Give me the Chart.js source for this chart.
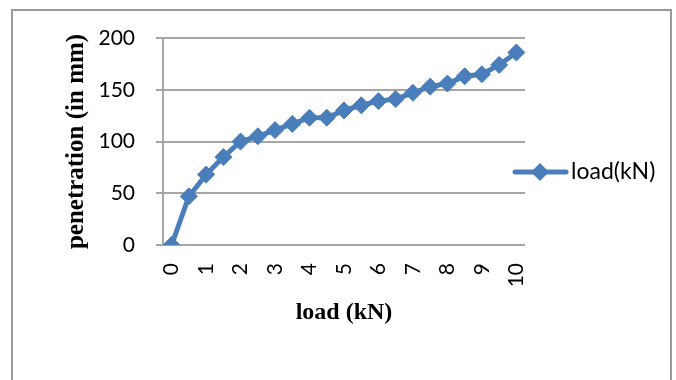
<!DOCTYPE html>
<html>
<head>
<meta charset="utf-8">
<script src="https://cdn.jsdelivr.net/npm/chart.js@4/dist/chart.umd.min.js"></script>
<style>
  html, body { margin: 0; padding: 0; background: #ffffff; }
  #wrap { position: relative; width: 676px; height: 380px; }
  canvas { display: block; }
</style>
</head>
<body>
<div id="wrap"><canvas id="c" width="676" height="380"></canvas></div>
<script>
// Load steps (kN) and measured penetration (mm)
const loads = [0, 0.5, 1, 1.5, 2, 2.5, 3, 3.5, 4, 4.5, 5, 5.5, 6, 6.5, 7, 7.5, 8, 8.5, 9, 9.5, 10];
const penetration = [0, 47, 68, 85, 100, 105, 111, 117, 123, 123, 130, 135, 139, 141, 147, 153, 156, 163, 165, 174, 186];
const seriesName = 'load(kN)';
const xTitle = 'load (kN)';
const yTitle = 'penetration (in mm)';

const blue = '#4a7ebb';
const gridGray = '#a6a6a6';

// Outer frame around the whole chart
const framePlugin = {
  id: 'frame',
  beforeDraw(chart) {
    const ctx = chart.ctx;
    ctx.save();
    ctx.fillStyle = '#ffffff';
    ctx.fillRect(0, 0, chart.width, chart.height);
    ctx.strokeStyle = '#9a9a9a';
    ctx.lineWidth = 2;
    ctx.strokeRect(12, 10, 659, 400);
    ctx.restore();
  }
};

// Legend entry on the right: line with diamond marker and the series label
const sideLegend = {
  id: 'sideLegend',
  afterDraw(chart) {
    const ds = chart.data.datasets[0];
    const ctx = chart.ctx;
    const y = 172;
    ctx.save();
    ctx.strokeStyle = ds.borderColor;
    ctx.lineWidth = 5;
    ctx.lineCap = 'round';
    ctx.beginPath();
    ctx.moveTo(515, y);
    ctx.lineTo(566, y);
    ctx.stroke();
    ctx.fillStyle = ds.pointBackgroundColor;
    ctx.beginPath();
    ctx.moveTo(540, y - 9);
    ctx.lineTo(549, y);
    ctx.lineTo(540, y + 9);
    ctx.lineTo(531, y);
    ctx.closePath();
    ctx.fill();
    ctx.fillStyle = '#000000';
    ctx.font = '23px Lato';
    ctx.textAlign = 'left';
    ctx.textBaseline = 'middle';
    ctx.fillText(ds.label, 571, y);
    ctx.restore();
  }
};

new Chart(document.getElementById('c'), {
  type: 'line',
  data: {
    labels: loads.map(String),
    datasets: [{
      label: seriesName,
      data: penetration,
      borderColor: blue,
      backgroundColor: blue,
      pointBackgroundColor: blue,
      pointBorderColor: blue,
      borderWidth: 5,
      pointStyle: 'rectRot',
      pointRadius: 8.5,
      pointBorderWidth: 1,
      tension: 0,
      fill: false
    }]
  },
  options: {
    responsive: false,
    animation: false,
    devicePixelRatio: 1,
    layout: { padding: { left: 58, top: 38, right: 151, bottom: 49 } },
    plugins: {
      legend: { display: false },
      tooltip: { enabled: false }
    },
    scales: {
      x: {
        type: 'category',
        offset: true,
        grid: { display: false, drawTicks: false },
        border: { display: false },
        ticks: {
          autoSkip: false,
          minRotation: 90,
          maxRotation: 90,
          padding: 18,
          color: '#000000',
          font: { family: 'Lato', size: 21 },
          callback(value, index) {
            return index % 2 === 0 ? this.getLabelForValue(value) : '';
          }
        },
        title: {
          display: true,
          text: xTitle,
          color: '#000000',
          font: { family: 'Liberation Serif', size: 24, weight: 'bold' },
          padding: { top: 4, bottom: 4 }
        },
        afterFit(scale) { scale.height = 86; }
      },
      y: {
        min: 0,
        max: 200,
        grid: {
          color: gridGray,
          lineWidth: 2,
          drawTicks: true,
          tickLength: 7
        },
        border: { display: true, color: gridGray, width: 2 },
        ticks: {
          stepSize: 50,
          padding: 21,
          color: '#000000',
          font: { family: 'Lato', size: 21 }
        },
        title: {
          display: true,
          text: yTitle,
          color: '#000000',
          font: { family: 'Liberation Serif', size: 25, weight: 'bold' },
          padding: { top: 4, bottom: 4 }
        },
        afterFit(scale) { scale.width = 105; }
      }
    }
  },
  plugins: [framePlugin, sideLegend]
});
</script>
</body>
</html>
